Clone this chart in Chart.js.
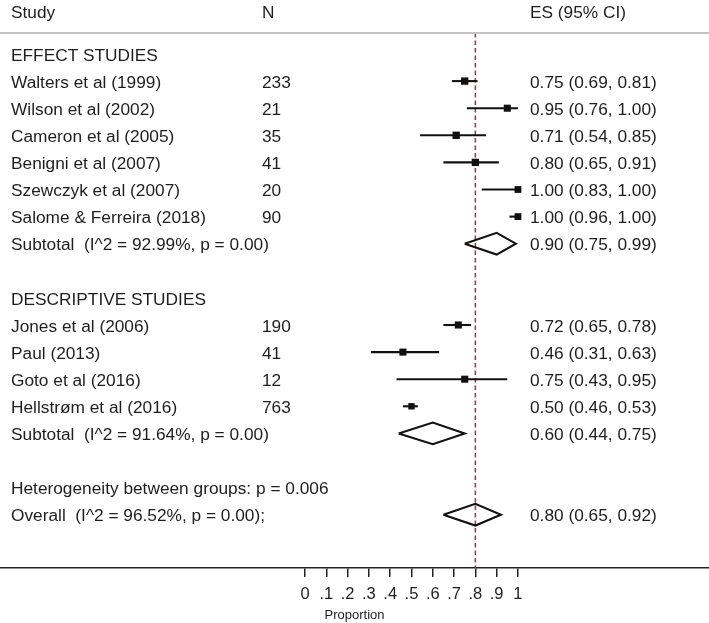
<!DOCTYPE html>
<html lang="en">
<head>
    <meta charset="UTF-8">
    <title>Forest plot</title>
    <script src="https://cdn.jsdelivr.net/npm/chart.js"></script>
    <style>
        * { margin: 0; padding: 0; box-sizing: border-box; }
        html, body { width: 709px; height: 623px; background: #fff; overflow: hidden; }
        .chart-container { position: relative; width: 709px; height: 623px; }
    </style>
</head>
<body>
    <div class="chart-container">
        <canvas id="myChart"></canvas>
    </div>
    <script>
        // 各研究数据
        var studyLabels = ['Walters et al (1999)', 'Wilson et al (2002)', 'Cameron et al (2005)', 'Benigni et al (2007)',
            'Szewczyk et al (2007)', 'Salome & Ferreira (2018)', 'Jones et al (2006)', 'Paul (2013)',
            'Goto et al (2016)', 'Hellstrøm et al (2016)'];
        var studyN = [233, 21, 35, 41, 20, 90, 190, 41, 12, 763];
        var studyES = [0.75, 0.95, 0.71, 0.80, 1.00, 1.00, 0.72, 0.46, 0.75, 0.50];
        var studyLo = [0.69, 0.76, 0.54, 0.65, 0.83, 0.96, 0.65, 0.31, 0.43, 0.46];
        var studyHi = [0.81, 1.00, 0.85, 0.91, 1.00, 1.00, 0.78, 0.63, 0.95, 0.53];
        var studyRows = [1, 2, 3, 4, 5, 6, 10, 11, 12, 13];
        var studySize = [5.2, 5, 5.2, 5.2, 4.8, 4.8, 5, 5, 5, 4.5];

        // 合并结果 (菱形)
        var pooledLabels = ['Subtotal  (I^2 = 92.99%, p = 0.00)', 'Subtotal  (I^2 = 91.64%, p = 0.00)',
            'Overall  (I^2 = 96.52%, p = 0.00);'];
        var pooledES = [0.90, 0.60, 0.80];
        var pooledLo = [0.75, 0.44, 0.65];
        var pooledHi = [0.99, 0.75, 0.92];
        var pooledRows = [7, 14, 17];

        var groupLabels = ['EFFECT STUDIES', 'DESCRIPTIVE STUDIES'];
        var groupRows = [0, 9];
        var hetLabel = 'Heterogeneity between groups: p = 0.006';
        var hetRow = 16;
        var headerLabels = ['Study', 'N', 'ES (95% CI)'];
        var headerRow = -1.568;

        var refValue = 0.8;
        var xTicks = [0, 0.1, 0.2, 0.3, 0.4, 0.5, 0.6, 0.7, 0.8, 0.9, 1];
        var xTitle = 'Proportion';

        var yMin = -0.775, yMax = 18.967;

        function fmtCI(es, lo, hi) {
            return es.toFixed(2) + ' (' + lo.toFixed(2) + ', ' + hi.toFixed(2) + ')';
        }

        var datasets = [];
        // 置信区间线
        for (var i = 0; i < studyES.length; i++) {
            datasets.push({
                data: [{x: studyLo[i], y: studyRows[i]}, {x: studyHi[i], y: studyRows[i]}],
                showLine: true, borderColor: '#111', borderWidth: 2.1, pointRadius: 0
            });
        }
        // 方块
        datasets.push({
            data: studyES.map(function (v, i) { return {x: v, y: studyRows[i]}; }),
            showLine: false, pointStyle: 'rect', pointRadius: studySize,
            backgroundColor: '#111', borderColor: '#111', borderWidth: 0
        });
        // 菱形
        for (var i = 0; i < pooledES.length; i++) {
            var r = pooledRows[i];
            datasets.push({
                data: [{x: pooledLo[i], y: r}, {x: pooledES[i], y: r - 0.4}, {x: pooledHi[i], y: r},
                       {x: pooledES[i], y: r + 0.4}, {x: pooledLo[i], y: r}],
                showLine: true, borderColor: '#111', borderWidth: 2.1, pointRadius: 0, fill: false, tension: 0
            });
        }
        // 参考线
        datasets.push({
            data: [{x: refValue, y: yMin}, {x: refValue, y: yMax}],
            showLine: true, borderColor: '#ad2f3c', borderWidth: 1.5, borderDash: [4.5, 3], pointRadius: 0
        });

        var textPlugin = {
            id: 'forestText',
            afterDraw: function (chart) {
                var ctx = chart.ctx;
                var ys = chart.scales.y;
                var W = chart.width;
                ctx.save();
                // 表头下方的横线
                ctx.strokeStyle = '#c4c4c4';
                ctx.lineWidth = 2;
                ctx.beginPath();
                ctx.moveTo(0, chart.chartArea.top);
                ctx.lineTo(W, chart.chartArea.top);
                ctx.stroke();

                ctx.fillStyle = '#1e1e1e';
                ctx.font = '17.3px "Liberation Sans", Arial, sans-serif';
                ctx.textBaseline = 'middle';
                ctx.textAlign = 'left';
                var colStudy = 11, colN = 262, colES = 530;
                function rowY(v) { return ys.getPixelForValue(v) + 2; }

                var hy = rowY(headerRow);
                ctx.fillText(headerLabels[0], colStudy, hy);
                ctx.fillText(headerLabels[1], colN, hy);
                ctx.fillText(headerLabels[2], colES, hy);

                for (var i = 0; i < groupLabels.length; i++) {
                    ctx.fillText(groupLabels[i], colStudy, rowY(groupRows[i]));
                }
                for (var i = 0; i < studyLabels.length; i++) {
                    var y = rowY(studyRows[i]);
                    ctx.fillText(studyLabels[i], colStudy, y);
                    ctx.fillText(String(studyN[i]), colN, y);
                    ctx.fillText(fmtCI(studyES[i], studyLo[i], studyHi[i]), colES, y);
                }
                for (var i = 0; i < pooledLabels.length; i++) {
                    var y = rowY(pooledRows[i]);
                    ctx.fillText(pooledLabels[i], colStudy, y);
                    ctx.fillText(fmtCI(pooledES[i], pooledLo[i], pooledHi[i]), colES, y);
                }
                ctx.fillText(hetLabel, colStudy, rowY(hetRow));
                ctx.restore();
            }
        };

        var ctx = document.getElementById('myChart').getContext('2d');
        var myChart = new Chart(ctx, {
            type: 'scatter',
            data: { datasets: datasets },
            options: {
                responsive: true,
                maintainAspectRatio: false,
                animation: false,
                layout: { autoPadding: false, padding: { top: 33, left: 0, right: 0, bottom: 0 } },
                plugins: { legend: { display: false }, tooltip: { enabled: false } },
                scales: {
                    x: {
                        type: 'linear',
                        min: -1.432,
                        max: 1.897,
                        afterBuildTicks: function (scale) {
                            scale.ticks = xTicks.map(function (v) { return {value: v}; });
                        },
                        afterFit: function (scale) { scale.height = 55; },
                        grid: { drawOnChartArea: false, drawTicks: true, tickLength: 9, color: '#222', lineWidth: 1.5 },
                        border: { display: true, color: '#222', width: 1.5 },
                        ticks: {
                            autoSkip: false,
                            maxRotation: 0,
                            padding: 8,
                            color: '#1e1e1e',
                            font: { family: '"Liberation Sans", Arial, sans-serif', size: 16.5 },
                            callback: function (v) {
                                if (v === 0) return '0';
                                if (v === 1) return '1';
                                return '.' + Math.round(v * 10);
                            }
                        },
                        title: {
                            display: true,
                            text: xTitle,
                            color: '#1e1e1e',
                            font: { family: '"Liberation Sans", Arial, sans-serif', size: 13 },
                            padding: { top: 2, bottom: 0 }
                        }
                    },
                    y: {
                        type: 'linear',
                        display: false,
                        reverse: true,
                        min: yMin,
                        max: yMax
                    }
                }
            },
            plugins: [textPlugin]
        });
    </script>
</body>
</html>
